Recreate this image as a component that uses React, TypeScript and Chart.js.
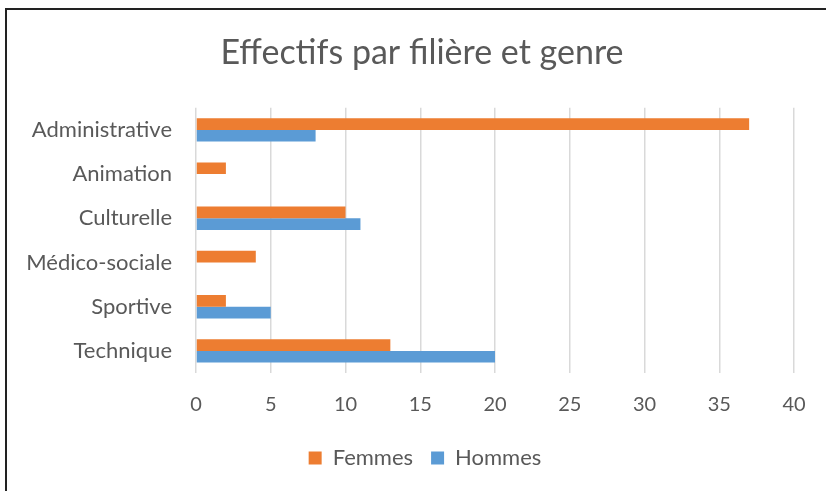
import React, { useEffect, useRef } from "react";
import { Chart, registerables } from "chart.js";

Chart.register(...registerables);

const categories = ["Administrative", "Animation", "Culturelle", "Médico-sociale", "Sportive", "Technique"];
const femmes = [37, 2, 10, 4, 2, 13];
const hommes = [8, 0, 11, 0, 5, 20];
const seriesNames = ["Femmes", "Hommes"];
const titleText = "Effectifs par filière et genre";

const FONT = "Lato, 'Open Sans', sans-serif";
const TEXT = "#595959";

// shifts title and legend horizontally (the original chart is centred a little to the right)
const shiftPlugin = {
  id: "shiftTitleLegend",
  afterLayout(chart: any) {
    const t = chart.titleBlock;
    if (t) { t.left += 21; t.right += 21; }
    const l = chart.legend;
    if (l) { l.left += 24; l.right += 24; }
  },
};

export default function App() {
  const ref = useRef<HTMLCanvasElement | null>(null);
  useEffect(() => {
    document.body.style.margin = "0";
    const ctx = ref.current!;
    const chart = new Chart(ctx, {
      type: "bar",
      data: {
        labels: categories,
        datasets: [
          { label: seriesNames[0], data: femmes, backgroundColor: "#ED7D31", borderWidth: 0 },
          { label: seriesNames[1], data: hommes, backgroundColor: "#5B9BD5", borderWidth: 0 },
        ],
      },
      plugins: [shiftPlugin],
      options: {
        indexAxis: "y",
        animation: false,
        responsive: false,
        maintainAspectRatio: false,
        layout: { padding: { left: 8, right: 32, top: 0, bottom: 12 } },
        datasets: { bar: { categoryPercentage: 0.53, barPercentage: 1.0 } },
        plugins: {
          title: {
            display: true,
            text: titleText,
            color: TEXT,
            font: { family: FONT, size: 34, weight: "normal" },
            padding: { top: 33, bottom: 34 },
          },
          legend: {
            position: "bottom",
            labels: {
              color: TEXT,
              font: { family: FONT, size: 22 },
              boxWidth: 13,
              boxHeight: 13,
              padding: 18,
            },
          },
          tooltip: { enabled: false },
        },
        scales: {
          x: {
            min: 0,
            max: 40,
            ticks: { stepSize: 5, color: TEXT, font: { family: FONT, size: 20 }, padding: 20 },
            grid: { color: "#D9D9D9", lineWidth: 1.5, drawTicks: false },
            border: { display: false },
            afterFit: (s: any) => { s.height = 56; },
          },
          y: {
            ticks: { color: TEXT, font: { family: FONT, size: 22 }, padding: 24 },
            grid: { display: false, drawTicks: false },
            border: { display: false },
            afterFit: (s: any) => { s.width = 188; },
          },
        },
      },
    });
    return () => chart.destroy();
  }, []);
  return (
    <div style={{ position: "fixed", left: 0, top: 0, width: 826, height: 491, background: "#fff" }}>
      <canvas ref={ref} width={826} height={491} style={{ position: "absolute", left: 0, top: 0 }} />
      <div style={{ position: "absolute", left: 5, top: 8, right: 0, bottom: 0, borderTop: "2px solid #222", borderLeft: "2px solid #222" }} />
    </div>
  );
}
